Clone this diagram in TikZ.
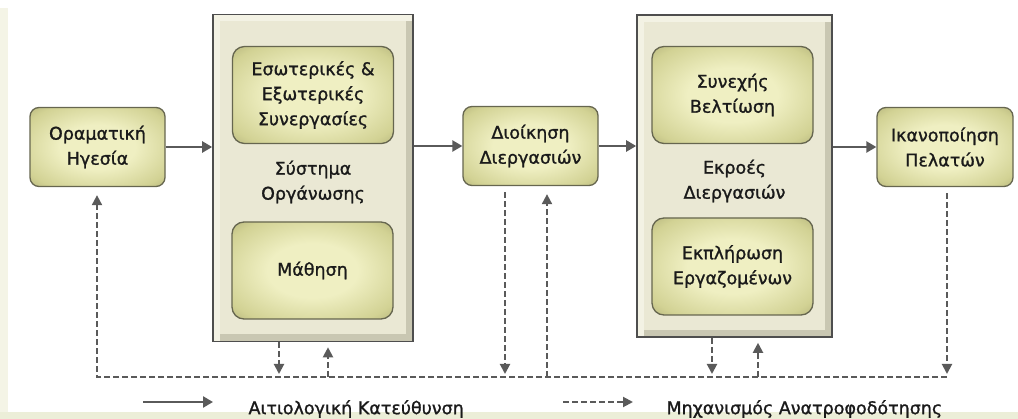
\documentclass[tikz,border=0pt]{standalone}
\usepackage{fontspec}
\setmainfont[FakeBold=1.2]{DejaVu Sans}
\usetikzlibrary{arrows.meta}

\definecolor{textdark}{HTML}{1A1A1A}
\definecolor{arrowgray}{HTML}{5A5A5A}
\definecolor{boxedge}{HTML}{66664F}
\definecolor{glowin}{HTML}{EFEFC2}
\definecolor{glowmid}{HTML}{D2D294}
\definecolor{glowout}{HTML}{8E8C5C}
\definecolor{paneledge}{HTML}{4E4E4E}
\definecolor{panelrim}{HTML}{F3F2E4}
\definecolor{panelface}{HTML}{EAE8D4}
\definecolor{panelshade}{HTML}{C9C7B2}
\definecolor{rimcream}{HTML}{F4F4E6}
\definecolor{bandgreen}{HTML}{ECEED8}

\pgfdeclareradialshading{boxglow}{\pgfpoint{0bp}{0bp}}{%
  color(0bp)=(glowin); color(14bp)=(glowin); color(30bp)=(glowmid);
  color(46bp)=(glowout); color(72bp)=(glowout)}

\tikzset{
  boxtext/.style={font=\fontsize{17.5}{25}\selectfont, text=textdark, align=center},
  glowbox/.style={boxtext, draw=boxedge, line width=1.3pt, rounded corners=9pt,
    shading=boxglow, inner sep=0pt},
  smallbox/.style={glowbox, minimum width=135pt, minimum height=79pt},
  innerbox/.style={glowbox, rounded corners=12pt, minimum width=161pt, minimum height=97pt},
  panel/.style={draw=paneledge, line width=1.6pt, fill=panelrim, inner sep=0pt,
    path picture={
      \fill[panelshade] ([shift={(7pt,0pt)}]path picture bounding box.south west)
        rectangle ([shift={(0pt,-7pt)}]path picture bounding box.north east);
      \fill[panelface] ([shift={(7pt,7pt)}]path picture bounding box.south west)
        rectangle ([shift={(-7pt,-7pt)}]path picture bounding box.north east);
    }},
  flow/.style={draw=arrowgray, line width=2.4pt, -{Triangle[length=10pt,width=11pt]}},
  feedback/.style={draw=arrowgray, line width=2pt, dash pattern=on 6pt off 3pt,
    -{Triangle[length=10pt,width=10pt]}},
}

\begin{document}
\begin{tikzpicture}[x=1pt,y=-1pt]
  \useasboundingbox (0,0) rectangle (1018,419);
  % frame strips of the page
  \fill[rimcream] (0,8) rectangle (8,419);
  \fill[bandgreen] (0,412) rectangle (1018,419);

  % the two panels
  \node[panel, minimum width=200pt, minimum height=327pt] (orgsys) at (313,178) {};
  \node[panel, minimum width=195pt, minimum height=322pt] (outputs) at (734.5,176) {};
  \node[boxtext] (orgsyslbl) at (313,182) {Σύστημα\\Οργάνωσης};
  \node[boxtext] (outputslbl) at (734.5,181) {Εκροές\\Διεργασιών};

  % boxes
  \node[smallbox] (vision) at (97.5,147) {Οραματική\\Ηγεσία};
  \node[innerbox] (partners) at (313,95) {Εσωτερικές \&\\Εξωτερικές\\Συνεργασίες};
  \node[innerbox] (learning) at (312.5,270.5) {Μάθηση};
  \node[smallbox] (procmgmt) at (530.5,146) {Διοίκηση\\Διεργασιών};
  \node[innerbox] (improve) at (732.5,95) {Συνεχής\\Βελτίωση};
  \node[innerbox] (fulfil) at (732.5,266.5) {Εκπλήρωση\\Εργαζομένων};
  \node[smallbox, minimum width=136pt] (satisf) at (945,147) {Ικανοποίηση\\Πελατών};

  % causal direction
  \draw[flow] (vision.east) -- (vision.east -| orgsys.west);
  \draw[flow] (orgsys.east |- procmgmt.west) -- (procmgmt.west);
  \draw[flow] (procmgmt.east) -- (procmgmt.east -| outputs.west);
  \draw[flow] (outputs.east |- satisf.west) -- (satisf.west);

  % feedback loop
  \coordinate (fbleft) at (97,377);
  \coordinate (fbright) at (947,377);
  \coordinate (tap1) at (279,377);
  \coordinate (ret1) at (328,377);
  \coordinate (tap2) at (505,377);
  \coordinate (ret2) at (547,377);
  \coordinate (tap3) at (712,377);
  \coordinate (ret3) at (758,377);
  \draw[feedback, shorten >=8pt] (fbright) -- (fbleft) -- (vision.south -| fbleft);
  \draw[feedback, shorten >=3pt] (orgsys.south -| tap1) -- (tap1);
  \draw[feedback, shorten >=5pt] (ret1) -- (ret1 |- orgsys.south);
  \draw[feedback, shorten <=6pt, shorten >=3pt] (procmgmt.south -| tap2) -- (tap2);
  \draw[feedback, shorten >=8pt] (ret2) -- (ret2 |- procmgmt.south);
  \draw[feedback, shorten >=3pt] (outputs.south -| tap3) -- (tap3);
  \draw[feedback, shorten >=5pt] (ret3) -- (ret3 |- outputs.south);
  \draw[feedback, shorten <=6pt, shorten >=3pt] (satisf.south -| fbright) -- (fbright);

  % legend
  \coordinate (flowa) at (143,402);
  \coordinate (flowb) at (213,402);
  \coordinate (fba) at (563,402);
  \coordinate (fbb) at (633,402);
  \draw[flow] (flowa) -- (flowb);
  \draw[feedback] (fba) -- (fbb);
  \node[boxtext, anchor=west] (flowlbl) at (245,409) {Αιτιολογική Κατεύθυνση};
  \node[boxtext, anchor=west] (fblbl) at (663,409) {Μηχανισμός Ανατροφοδότησης};
\end{tikzpicture}
\end{document}
